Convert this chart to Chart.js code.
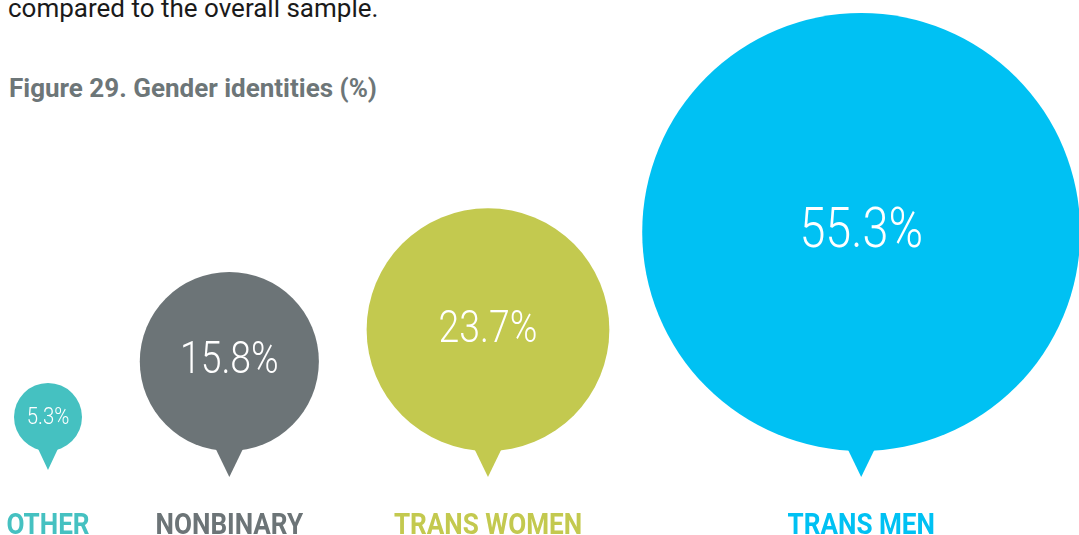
<!DOCTYPE html>
<html>
<head>
<meta charset="utf-8">
<script src="https://cdn.jsdelivr.net/npm/chart.js@4/dist/chart.umd.min.js"></script>
<style>
  html, body { margin: 0; padding: 0; background: #fff; }
  #wrap { position: relative; width: 1079px; height: 535px; overflow: hidden; }
  #myChart { position: absolute; left: 0; top: 0; }
  .intro { position: absolute; left: 8px; top: -5px; font: 26px/26px Roboto, sans-serif; color: #1a1a1a; white-space: nowrap; }
  .fig-title { position: absolute; left: 9px; top: 75px; font: bold 26px/26px Roboto, sans-serif; color: #6d7678; white-space: nowrap; }
</style>
</head>
<body>
<div id="wrap">
  <div class="intro">compared to the overall sample.</div>
  <div class="fig-title">Figure 29. Gender identities (%)</div>
  <canvas id="myChart" width="1079" height="535"></canvas>
</div>
<script>
// data
const categories = ["OTHER", "NONBINARY", "TRANS WOMEN", "TRANS MEN"];
const shares = [5.3, 15.8, 23.7, 55.3];

// styles
const colors = ["#45c1c1", "#6c7477", "#c3c94f", "#00c1f3"];
const valueFontSizes = [24, 44, 44, 55];

// bubble size: power scale on the share value
const rMin = 34, rMax = 219, power = 0.6;
function sizeScale(v) {
  const lo = Math.pow(Math.min(...shares), power);
  const hi = Math.pow(Math.max(...shares), power);
  return rMin + (rMax - rMin) * (Math.pow(v, power) - lo) / (hi - lo);
}

// lay bubbles out left to right, all sitting on one baseline
const leftEdge = 14, baseline = 451, stepPad = 72, stepFactor = 0.885;
const radii = shares.map(sizeScale);
const points = [];
let cx = leftEdge + radii[0];
radii.forEach(function (r, i) {
  if (i > 0) cx += stepPad + stepFactor * (radii[i - 1] + r);
  points.push({ x: cx, y: baseline - r, r: r });
});

// pointer, value and category label for each bubble
const bubbleDecor = {
  id: "bubbleDecor",
  afterDatasetsDraw(chart) {
    const ctx = chart.ctx;
    const meta = chart.getDatasetMeta(0);
    meta.data.forEach(function (el, i) {
      const r = el.options.radius;
      const h = Math.min(26, r * 0.56);
      const w = h * 0.54;
      ctx.save();
      ctx.fillStyle = colors[i];
      ctx.beginPath();
      ctx.moveTo(el.x - w, el.y + r - 3);
      ctx.lineTo(el.x + w, el.y + r - 3);
      ctx.lineTo(el.x, el.y + r + h);
      ctx.closePath();
      ctx.fill();

      // value inside the bubble
      ctx.fillStyle = "#ffffff";
      ctx.textAlign = "center";
      ctx.textBaseline = "middle";
      ctx.font = "300 " + valueFontSizes[i] + "px Roboto, sans-serif";
      ctx.translate(el.x, el.y + 1);
      ctx.scale(0.85, 1);
      ctx.fillText(shares[i].toFixed(1) + "%", 0, 0);
      ctx.restore();

      // category under the bubble
      ctx.save();
      ctx.fillStyle = colors[i];
      ctx.textAlign = "center";
      ctx.textBaseline = "alphabetic";
      ctx.font = "bold 30px Roboto, sans-serif";
      ctx.translate(el.x, 534);
      ctx.scale(0.87, 1);
      ctx.fillText(categories[i], 0, 0);
      ctx.restore();
    });
  }
};

var ctx = document.getElementById("myChart").getContext("2d");
var chart = new Chart(ctx, {
  type: "bubble",
  data: {
    labels: categories,
    datasets: [
      {
        label: "Gender identities (%)",
        data: points,
        backgroundColor: colors,
        borderWidth: 0,
        hoverRadius: 0,
        clip: false
      }
    ]
  },
  options: {
    responsive: false,
    animation: false,
    devicePixelRatio: 1,
    layout: { padding: 0, autoPadding: false },
    events: [],
    scales: {
      x: { type: "linear", min: 0, max: 1079, display: false },
      y: { type: "linear", min: 0, max: 535, reverse: true, display: false }
    },
    plugins: {
      legend: { display: false },
      tooltip: { enabled: false }
    }
  },
  plugins: [bubbleDecor]
});
</script>
</body>
</html>
